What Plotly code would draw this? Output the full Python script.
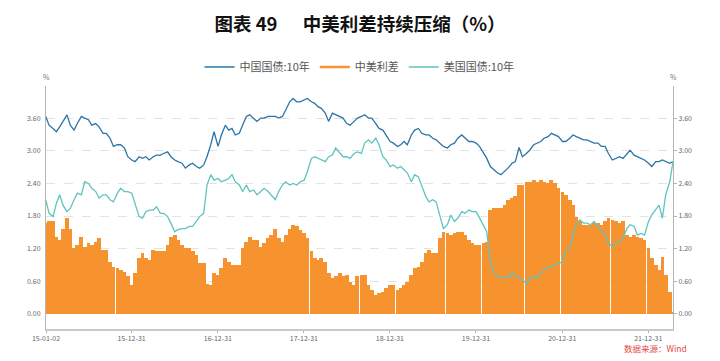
import pandas as pd
import plotly.graph_objects as go

# semi-monthly sampling grid (1st and 15th of each month), 2015-01-01 .. 2022-04-15
dates = pd.date_range("2015-01-01", periods=176, freq="SMS")

cn_10y = [
    3.63, 3.47, 3.41, 3.35, 3.44, 3.54, 3.66, 3.47, 3.38, 3.50, 3.63, 3.60, 3.57, 3.47, 3.50, 3.44,
    3.32, 3.32, 3.23, 3.08, 3.11, 3.11, 3.05, 2.89, 2.83, 2.80, 2.89, 2.86, 2.89, 2.83, 2.89, 2.92,
    2.92, 2.95, 2.98, 2.89, 2.83, 2.80, 2.77, 2.68, 2.74, 2.77, 2.71, 2.68, 2.74,
    2.89, 3.11, 3.35, 3.08, 3.29, 3.47, 3.38, 3.41, 3.29, 3.32, 3.47, 3.63, 3.66, 3.60, 3.54, 3.60,
    3.60, 3.63, 3.63, 3.63, 3.60, 3.63, 3.75, 3.90, 3.96, 3.90, 3.90, 3.93, 3.96, 3.90, 3.87, 3.81,
    3.78, 3.69, 3.54, 3.69, 3.66, 3.63, 3.60, 3.50, 3.47, 3.54, 3.60, 3.63,
    3.66, 3.60, 3.60, 3.50, 3.41, 3.38, 3.29, 3.17, 3.14, 3.08, 3.11, 3.17, 3.11, 3.29, 3.38, 3.41,
    3.32, 3.29, 3.29, 3.23, 3.20, 3.14, 3.08, 3.05, 3.11, 3.14, 3.23, 3.29, 3.23, 3.17, 3.17, 3.14,
    3.08, 2.95, 2.86, 2.71, 2.65, 2.59, 2.56, 2.62, 2.68, 2.77, 2.80, 3.06, 2.89,
    2.95, 3.01, 3.11, 3.14, 3.17, 3.23, 3.26, 3.32, 3.29, 3.26, 3.17, 3.17, 3.23, 3.29, 3.26, 3.23,
    3.20, 3.20, 3.17, 3.14, 3.14, 3.08, 3.08, 2.95, 2.83, 2.86, 2.89, 2.86, 2.95, 3.01, 2.92, 2.89,
    2.86, 2.83, 2.77, 2.71, 2.80, 2.80, 2.83, 2.80, 2.77, 2.80,
]

us_10y = [
    2.10, 1.85, 1.79, 2.03, 2.19, 2.00, 1.88, 1.94, 2.10, 2.22, 2.19, 2.43, 2.40, 2.31, 2.25, 2.13,
    2.19, 2.19, 2.10, 2.06, 2.22, 2.31, 2.25, 2.25, 2.22, 2.03, 1.79, 1.76, 1.88, 1.91, 1.91, 1.97,
    1.85, 1.85, 1.79, 1.67, 1.51, 1.55, 1.57, 1.57, 1.61, 1.61, 1.70, 1.79, 1.85,
    2.37, 2.56, 2.46, 2.49, 2.43, 2.46, 2.49, 2.56, 2.43, 2.37, 2.25, 2.37, 2.25, 2.28, 2.19, 2.25,
    2.31, 2.25, 2.19, 2.10, 2.25, 2.37, 2.43, 2.37, 2.40, 2.37, 2.43, 2.46, 2.62, 2.86, 2.89, 2.86,
    2.83, 2.80, 2.89, 2.92, 3.05, 2.95, 2.89, 2.89, 2.86, 2.95, 2.98, 2.95,
    3.14, 3.20, 3.14, 3.23, 3.11, 2.89, 2.83, 2.71, 2.74, 2.68, 2.71, 2.65, 2.59, 2.43, 2.56, 2.52,
    2.37, 2.16, 2.06, 2.10, 2.06, 1.79, 1.57, 1.64, 1.82, 1.70, 1.76, 1.88, 1.85, 1.91, 1.88, 1.88,
    1.76, 1.61, 1.51, 0.96, 0.78, 0.69, 0.66, 0.69, 0.66, 0.78, 0.70, 0.67, 0.63,
    0.56, 0.66, 0.69, 0.66, 0.75, 0.81, 0.87, 0.87, 0.90, 0.93, 0.96, 1.15, 1.21, 1.45, 1.64, 1.73,
    1.67, 1.67, 1.64, 1.70, 1.61, 1.51, 1.48, 1.30, 1.24, 1.30, 1.33, 1.39, 1.57, 1.64, 1.61, 1.45,
    1.48, 1.45, 1.70, 1.82, 1.91, 2.00, 1.76, 2.19, 2.43, 2.80,
]

spread = [
    1.67, 1.70, 1.70, 1.42, 1.36, 1.57, 1.76, 1.57, 1.21, 1.27, 1.42, 1.24, 1.30, 1.27, 1.33, 1.39,
    1.18, 1.18, 0.96, 0.87, 0.84, 0.81, 0.78, 0.69, 0.53, 0.75, 1.02, 1.12, 1.02, 0.99, 1.18, 1.15,
    1.15, 1.15, 1.27, 1.42, 1.45, 1.36, 1.27, 1.21, 1.21, 1.15, 1.08, 0.93, 0.93,
    0.56, 0.53, 0.75, 0.72, 0.84, 1.02, 0.96, 0.90, 0.90, 0.90, 1.21, 1.33, 1.42, 1.36, 1.36, 1.24,
    1.30, 1.39, 1.45, 1.57, 1.39, 1.33, 1.45, 1.57, 1.64, 1.61, 1.54, 1.48, 1.39, 1.15, 1.02, 0.99,
    1.02, 0.96, 0.75, 0.66, 0.69, 0.75, 0.69, 0.72, 0.59, 0.53, 0.69, 0.72,
    0.72, 0.53, 0.44, 0.35, 0.38, 0.41, 0.47, 0.53, 0.53, 0.44, 0.47, 0.53, 0.59, 0.72, 0.84, 0.87,
    0.96, 1.12, 1.18, 1.12, 1.12, 1.39, 1.51, 1.48, 1.45, 1.48, 1.51, 1.51, 1.45, 1.36, 1.30, 1.27,
    1.27, 1.30, 1.33, 1.91, 1.94, 1.94, 1.94, 2.00, 2.10, 2.13, 2.16, 2.37, 2.37,
    2.43, 2.43, 2.46, 2.43, 2.46, 2.43, 2.40, 2.46, 2.40, 2.31, 2.25, 2.19, 2.10, 2.00, 1.79, 1.70,
    1.64, 1.64, 1.64, 1.67, 1.67, 1.64, 1.70, 1.76, 1.73, 1.70, 1.67, 1.70, 1.45, 1.42, 1.45, 1.42,
    1.39, 1.36, 1.21, 1.02, 0.90, 0.81, 1.05, 0.72, 0.41, 0.02,
]

tick_dates = ["2015-01-02", "2015-12-31", "2016-12-31", "2017-12-31",
              "2018-12-31", "2019-12-31", "2020-12-31", "2021-12-31"]
tick_text = ["15-01-02", "15-12-31", "16-12-31", "17-12-31",
             "18-12-31", "19-12-31", "20-12-31", "21-12-31"]
y_ticks = [0.0, 0.6, 1.2, 1.8, 2.4, 3.0, 3.6]

BLUE = "#2c74a5"
ORANGE = "#f7932f"
TEAL = "#5fc3c0"
FONT = "Noto Sans CJK SC"
BAR_WIDTH_MS = 16 * 86400 * 1000

fig = go.Figure()
fig.add_trace(go.Bar(x=dates, y=spread, name="中美利差", width=BAR_WIDTH_MS,
                     marker=dict(color=ORANGE, line=dict(width=0)), showlegend=False))
fig.add_trace(go.Scatter(x=dates, y=cn_10y, mode="lines", name="中国国债:10年",
                         line=dict(color=BLUE, width=1.3)))
fig.add_trace(go.Scatter(x=[None], y=[None], mode="lines", name="中美利差",
                         line=dict(color=ORANGE, width=2.5)))
fig.add_trace(go.Scatter(x=dates, y=us_10y, mode="lines", name="美国国债:10年",
                         line=dict(color=TEAL, width=1.3)))
# invisible trace to drive the right axis
fig.add_trace(go.Scatter(x=dates, y=cn_10y, mode="lines", yaxis="y2", showlegend=False,
                         line=dict(width=0), hoverinfo="skip", opacity=0))

yr = [-0.276, 4.19]
axis_font = dict(family=FONT, size=7, color="#666")
fig.update_layout(
    width=720, height=361,
    margin=dict(l=46, r=47, t=86, b=32, autoexpand=False),
    paper_bgcolor="white", plot_bgcolor="white",
    bargap=0,
    font=dict(family=FONT),
    title=dict(text="<b>图表\u00a049\u00a0\u00a0\u00a0\u00a0\u00a0\u00a0中美利差持续压缩（%）</b>",
               x=0.5, xanchor="center", y=1 - 25 / 361, yanchor="middle", yref="container",
               font=dict(family=FONT, size=18.5, color="#111")),
    legend=dict(orientation="h", x=0.5, xanchor="center", y=1 - 67 / 361, yanchor="middle",
                yref="container", font=dict(family=FONT, size=11, color="#555"),
                itemwidth=30, tracegroupgap=0, traceorder="normal"),
    xaxis=dict(type="date", range=["2015-01-02", "2022-04-15"], tickvals=tick_dates,
               ticktext=tick_text, showgrid=False, showline=True, linecolor="#c8c8c8",
               linewidth=2, ticks="outside", ticklen=2, tickcolor="#b0b0b0",
               tickfont=axis_font, zeroline=False),
    yaxis=dict(range=yr, tickvals=y_ticks, tickformat=".2f", showline=True, linecolor="#b5b5b5",
               linewidth=1, showgrid=True, gridcolor="#e3e3e3", griddash="dash", gridwidth=1,
               zeroline=False, tickfont=axis_font, ticks="", ticklabelstandoff=3),
    yaxis2=dict(range=yr, tickvals=y_ticks, tickformat=".2f", overlaying="y", side="right",
                showline=True, linecolor="#b5b5b5", linewidth=1, showgrid=False, zeroline=False,
                tickfont=axis_font, ticks="outside", ticklen=3, tickcolor="#b5b5b5"),
    annotations=[
        dict(text="%", x=0, y=(329 - 77) / 243, xref="paper", yref="paper", showarrow=False,
             xanchor="center", yanchor="middle", font=dict(family=FONT, size=7, color="#777")),
        dict(text="%", x=1, y=(329 - 77) / 243, xref="paper", yref="paper", showarrow=False,
             xanchor="center", yanchor="middle", font=dict(family=FONT, size=7, color="#777")),
        dict(text="数据来源：Wind", x=(655 - 46) / 627, y=(329 - 348) / 243, xref="paper",
             yref="paper", showarrow=False, xanchor="center", yanchor="middle",
             font=dict(family=FONT, size=8.5, color="#e24a45")),
    ],
)

fig.write_html("out.html", config={"displayModeBar": False},
               post_script="document.body.style.margin='0';")
